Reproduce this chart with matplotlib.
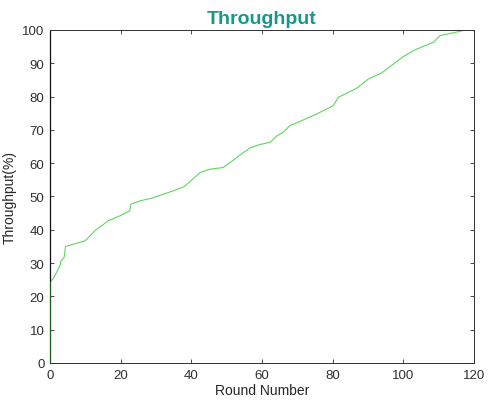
import matplotlib
matplotlib.use("Agg")
import matplotlib.pyplot as plt

plt.rcParams['font.family'] = ['Liberation Sans', 'DejaVu Sans']

rounds = [0, 0, 1, 2, 3, 3, 4, 4.2, 4.4, 7, 10, 12.7, 16.5, 20, 22.6, 22.9, 25.5, 28.8,
          34.9, 38, 42.5, 45.3, 49, 51, 53.8, 56.6, 59.4, 62.3, 64.2, 66, 67.9, 70,
          75.5, 80.2, 81.6, 84, 86.8, 88, 90.1, 94, 97.2, 100, 102.8, 105, 108.5,
          110.4, 113, 116, 117.5]
throughput = [0, 24.3, 25.5, 27.5, 29.7, 30.5, 31.7, 33.5, 35, 35.8, 36.7, 39.7, 42.7,
              44.3, 45.7, 47.7, 48.7, 49.5, 51.7, 53, 57.2, 58.2, 58.7, 60.2, 62.5,
              64.6, 65.6, 66.3, 68.2, 69.3, 71.3, 72.2, 74.8, 77.3, 79.8, 81, 82.5,
              83.5, 85.3, 87.2, 89.8, 92, 93.8, 94.8, 96.3, 98.3, 98.9, 99.6, 100]

xticks = [0, 20, 40, 60, 80, 100, 120]
yticks = [0, 10, 20, 30, 40, 50, 60, 70, 80, 90, 100]

fig = plt.figure(figsize=(4.95, 4.1), dpi=100)
ax = fig.add_axes([0.101, 0.1122, 0.8566, 0.8122])
ax.plot(rounds, throughput, color='#5ed65e', linewidth=0.8)
ax.plot([0, 0], [0, 24.3], color='#1e6e1e', linewidth=1.2, zorder=3)

ax.set_xlim(0, 120)
ax.set_ylim(0, 100)
ax.set_xticks(xticks)
ax.set_yticks(yticks)
ax.tick_params(direction='in', top=True, right=True, length=3, width=0.6,
               labelsize=9.5, colors='#303030', pad=4)
for s in ax.spines.values():
    s.set_color('#303030')
    s.set_linewidth(0.7)
ax.spines['left'].set_color('#111111')
ax.spines['left'].set_linewidth(0.9)

ax.set_xlabel('Round Number', fontsize=10, color='#262626', labelpad=2)
ax.set_ylabel('Throughput(%)', fontsize=10, color='#262626', labelpad=4)
ax.set_title('Throughput', fontsize=14, fontweight='bold', color='#15978a', pad=5)

fig.savefig('out.png', dpi=100)
